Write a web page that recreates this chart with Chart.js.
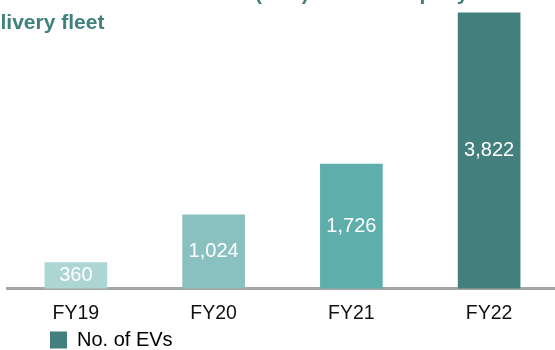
<!DOCTYPE html>
<html>
<head>
<meta charset="utf-8">
<script src="https://cdn.jsdelivr.net/npm/chart.js@4/dist/chart.umd.min.js"></script>
<style>
  html, body { margin: 0; padding: 0; overflow: hidden; background: #ffffff; }
  #wrap { position: relative; width: 558px; height: 360px; }
</style>
</head>
<body>
<div id="wrap"><canvas id="evChart" width="558" height="360"></canvas></div>
<script>
// Heading, categories and values
const titleLines = ['Number of electric vehicles (EVs) in the company\u2019s', 'delivery fleet'];
const categories = ['FY19', 'FY20', 'FY21', 'FY22'];
const evCounts = [360, 1024, 1726, 3822];
const seriesName = 'No. of EVs';

// Palette: bars get darker year on year
const barColors = ['#acd5d4', '#88c1c0', '#5daead', '#427f7d'];
const legendColor = '#427f7d';
const titleColor = '#3f817d';
const fontFamily = '"Liberation Sans", Arial, Helvetica, sans-serif';
const tickFontSize = 19.5;
const tickPadding = 13;

// Two-line heading drawn at the top-left of the canvas
const headingPlugin = {
  id: 'heading',
  afterDraw(chart) {
    const ctx = chart.ctx;
    ctx.save();
    ctx.font = 'bold 21px ' + fontFamily;
    ctx.fillStyle = titleColor;
    ctx.textAlign = 'left';
    ctx.textBaseline = 'alphabetic';
    titleLines.forEach((line, i) => ctx.fillText(line, -24, 0 + i * 29));
    ctx.restore();
  }
};

// White value label centred inside each bar
const valueLabelPlugin = {
  id: 'valueLabels',
  afterDatasetsDraw(chart) {
    const ctx = chart.ctx;
    const meta = chart.getDatasetMeta(0);
    ctx.save();
    ctx.font = '20px ' + fontFamily;
    ctx.fillStyle = '#ffffff';
    ctx.textAlign = 'center';
    ctx.textBaseline = 'middle';
    meta.data.forEach((bar, i) => {
      const p = bar.getProps(['x', 'y', 'base'], true);
      ctx.fillText(evCounts[i].toLocaleString('en-US'), p.x, (p.y + p.base) / 2);
    });
    ctx.restore();
  }
};

// Move the legend row in from the left edge
const legendOffsetPlugin = {
  id: 'legendOffset',
  afterLayout(chart) {
    const lg = chart.legend;
    if (!lg) return;
    lg.left += 38;
    lg.right += 38;
  }
};

new Chart(document.getElementById('evChart'), {
  type: 'bar',
  data: {
    labels: categories,
    datasets: [{
      label: seriesName,
      data: evCounts,
      backgroundColor: barColors,
      borderWidth: 0,
      barThickness: 62
    }]
  },
  options: {
    responsive: false,
    devicePixelRatio: 1,
    animation: false,
    layout: { padding: { left: 7, right: 0, top: 0, bottom: 0 } },
    scales: {
      x: {
        z: 1,
        grid: { display: false, drawTicks: false },
        border: { display: true, color: '#a5a5a5', width: 3 },
        ticks: { color: '#111111', padding: tickPadding, font: { size: tickFontSize, family: fontFamily } },
        // keep the padding above the labels only, none below
        afterFit(scale) { scale.height = tickFontSize * 1.2 + tickPadding; }
      },
      y: { display: false, min: 0, max: 4000 }
    },
    plugins: {
      title: { display: false },
      tooltip: { enabled: false },
      legend: {
        display: true,
        position: 'bottom',
        align: 'start',
        labels: {
          boxWidth: 17,
          boxHeight: 17,
          padding: 5,
          color: '#111111',
          font: { size: 20, family: fontFamily },
          generateLabels: () => [{
            text: seriesName,
            fillStyle: legendColor,
            strokeStyle: legendColor,
            lineWidth: 0,
            hidden: false,
            datasetIndex: 0
          }]
        }
      }
    }
  },
  plugins: [headingPlugin, valueLabelPlugin, legendOffsetPlugin]
});
</script>
</body>
</html>
